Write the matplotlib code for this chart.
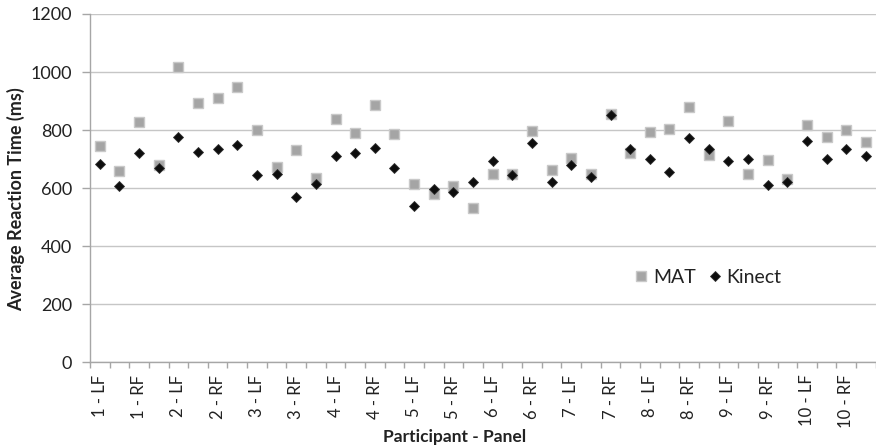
import numpy as np
import matplotlib
matplotlib.use('Agg')
import matplotlib.pyplot as plt
from matplotlib.ticker import MultipleLocator, FixedLocator

plt.rcParams['font.family'] = ['Lato', 'DejaVu Sans']

participants = [str(i) for i in range(1, 11)]
panels = ['LF', 'LB', 'RF', 'RB']
categories = [p + ' - ' + q for p in participants for q in panels]

mat = [746, 660, 828, 680, 1018, 893, 910, 949,
       801, 671, 730, 636, 838, 788, 887, 785,
       613, 578, 607, 530, 648, 648, 795, 661,
       705, 650, 855, 720, 792, 805, 880, 715,
       831, 647, 697, 631, 817, 776, 799, 759]
kinect = [683, 607, 722, 669, 775, 725, 734, 748,
          645, 647, 570, 615, 710, 722, 739, 670,
          538, 595, 585, 621, 692, 645, 755, 621,
          680, 637, 851, 734, 701, 655, 771, 734,
          692, 701, 610, 620, 763, 701, 734, 709]

fig = plt.figure(figsize=(8.76, 4.47), dpi=100)
ax = fig.add_axes([0.1027, 0.19, 0.897, 0.7787])

x = np.arange(len(categories))
ax.plot(x, mat, linestyle='none', marker='s', markersize=7.2,
        markerfacecolor='#a5a5a5', markeredgecolor='#c9c9c9', markeredgewidth=1.0,
        label='MAT', zorder=3)
ax.plot(x, kinect, linestyle='none', marker='D', markersize=5.6,
        markerfacecolor='#0d0d0d', markeredgecolor='#303030', markeredgewidth=0.6,
        label='Kinect', zorder=4)

ax.set_ylim(0, 1200)
ax.set_xlim(-0.5, len(categories) - 0.5)
ax.yaxis.set_major_locator(MultipleLocator(200))
ax.grid(axis='y', color='#c6c6c6', linewidth=1.0, zorder=0)
ax.set_axisbelow(True)

for s in ['top', 'right']:
    ax.spines[s].set_visible(False)
for s in ['left', 'bottom']:
    ax.spines[s].set_color('#a6a6a6')
    ax.spines[s].set_linewidth(1.0)

ax.tick_params(axis='y', length=5.8, width=1.0, color='#a6a6a6', pad=7,
               labelsize=13, labelcolor='#222222')

ax.set_xticks(x)
ax.set_xticklabels([c if i % 2 == 0 else '' for i, c in enumerate(categories)],
                   rotation=90, fontsize=12, color='#222222')
ax.tick_params(axis='x', which='major', length=0, pad=9)
ax.xaxis.set_minor_locator(FixedLocator(np.arange(-0.5, len(categories), 1.0)))
ax.tick_params(axis='x', which='minor', length=4, width=1.0, color='#a6a6a6')

ax.set_ylabel('Average Reaction Time (ms)', fontsize=13, fontweight='bold',
              color='#222222')
ax.yaxis.set_label_coords(-0.082, 0.467)
ax.set_xlabel('Participant - Panel', fontsize=12.5, fontweight='bold',
              color='#222222')
ax.xaxis.set_label_coords(0.464, -0.193)
ax.xaxis.label.set_va('top')

ax.legend(loc='center', bbox_to_anchor=(0.786, 0.243), ncol=2, frameon=False,
          fontsize=14, handlelength=0.8, handletextpad=0.2, columnspacing=0.6,
          labelcolor='#222222')

fig.savefig('out.png', dpi=100)
